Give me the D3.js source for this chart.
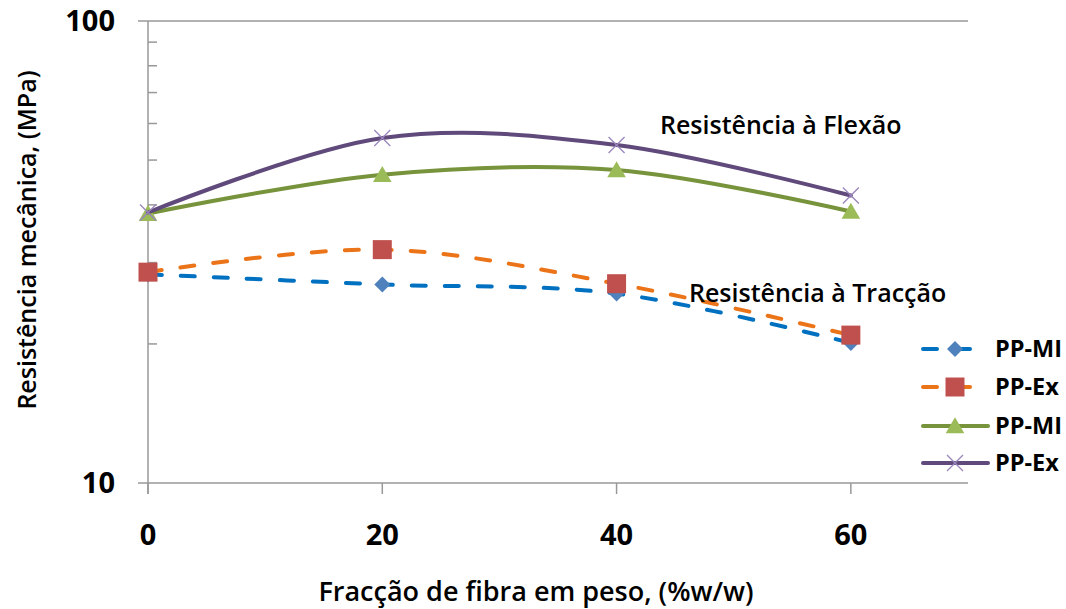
<!DOCTYPE html>
<html>
<head>
<meta charset="utf-8">
<script src="https://cdn.jsdelivr.net/npm/d3@7"></script>
<style>
  body { margin: 0; background: #fff; }
  svg { display: block; }
  text { font-family: "Open Sans", sans-serif; fill: #000; }
</style>
</head>
<body>
<svg id="chart"></svg>
<script>
// Dados
const fractions = [0, 20, 40, 60];
const tensilePPMI = [28.3, 26.9, 25.7, 20.1];
const tensilePPEx = [28.6, 32.0, 27.0, 20.9];
const flexPPMI = [38.3, 46.5, 47.6, 38.7];
const flexPPEx = [38.5, 55.8, 53.9, 41.9];
const seriesNames = ["PP-MI", "PP-Ex", "PP-MI", "PP-Ex"];
const xTicks = [0, 20, 40, 60];
const yMajorTicks = [10, 100];
const yMinorTicks = [20, 30, 40, 50, 60, 70, 80, 90];

const width = 1066, height = 609;
const plotLeft = 148, plotRight = 968, plotTop = 21, plotBottom = 483;

const svg = d3.select("#chart").attr("width", width).attr("height", height);

const x = d3.scaleLinear().domain([0, 70]).range([plotLeft, plotRight]);
const y = d3.scaleLog().domain([10, 100]).range([plotBottom, plotTop]);

const axisColor = "#999";

// Eixo Y (log)
const yAxis = svg.append("g").attr("transform", `translate(${plotLeft},0)`);
yAxis.append("line").attr("y1", plotTop).attr("y2", plotBottom + 11).attr("stroke", axisColor).attr("stroke-width", 1.5);
yAxis.selectAll(".minor").data(yMinorTicks).enter().append("line")
  .attr("x1", 0).attr("x2", 9)
  .attr("y1", d => y(d)).attr("y2", d => y(d))
  .attr("stroke", axisColor).attr("stroke-width", 1.5);
yAxis.selectAll(".major").data(yMajorTicks).enter().append("line")
  .attr("x1", -10).attr("x2", plotRight - plotLeft)
  .attr("y1", d => y(d)).attr("y2", d => y(d))
  .attr("stroke", axisColor).attr("stroke-width", 1.5);
yAxis.selectAll(".lab").data(yMajorTicks).enter().append("text")
  .attr("x", -33).attr("y", d => y(d) + 10)
  .attr("text-anchor", "end")
  .style("font-size", "29px").style("font-weight", "bold")
  .text(d => d);

// Eixo X
const xAxis = svg.append("g").attr("transform", `translate(0,${plotBottom})`);
xAxis.selectAll(".tick").data(xTicks).enter().append("line")
  .attr("x1", d => x(d)).attr("x2", d => x(d))
  .attr("y1", 0).attr("y2", 11)
  .attr("stroke", axisColor).attr("stroke-width", 1.5);
xAxis.selectAll(".lab").data(xTicks).enter().append("text")
  .attr("x", d => x(d)).attr("y", 62)
  .attr("text-anchor", "middle")
  .style("font-size", "29px").style("font-weight", "bold")
  .text(d => d);

// Títulos dos eixos
svg.append("text")
  .attr("x", 536).attr("y", 601)
  .attr("text-anchor", "middle")
  .style("font-size", "27px").style("font-weight", 600)
  .text("Fracção de fibra em peso, (%w/w)");

svg.append("text")
  .attr("transform", "translate(36,240) rotate(-90)")
  .attr("text-anchor", "middle")
  .style("font-size", "25px").style("font-weight", 600)
  .text("Resistência mecânica, (MPa)");

// Marcadores
const diamond = d3.symbol().type(d3.symbolSquare).size(128);
const square = d3.symbol().type(d3.symbolSquare).size(361);
const triangle = d3.symbol().type(d3.symbolTriangle).size(150);
const cross = () => "M-8,-8L8,8M-8,8L8,-8";

const series = [
  { name: seriesNames[0], values: tensilePPMI, line: "#0070C0", dash: "14 19", marker: "diamond", fill: "#4F81BD" },
  { name: seriesNames[1], values: tensilePPEx, line: "#EC7418", dash: "14 19", marker: "square", fill: "#C0504D" },
  { name: seriesNames[2], values: flexPPMI, line: "#77933C", dash: null, marker: "triangle", fill: "#9BBB59" },
  { name: seriesNames[3], values: flexPPEx, line: "#604A7B", dash: null, marker: "cross", fill: "#9A86BC" }
];

function drawMarker(g, type, fill) {
  if (type === "diamond") g.append("path").attr("d", diamond()).attr("transform", "rotate(45)").attr("fill", fill);
  else if (type === "square") g.append("path").attr("d", square()).attr("fill", fill);
  else if (type === "triangle") g.append("path").attr("d", triangle()).attr("transform", "translate(0,2)").attr("fill", fill);
  else g.append("path").attr("d", cross()).attr("stroke", fill).attr("stroke-width", 1.3).attr("fill", "none");
}

const line = d3.line()
  .x((d, i) => x(fractions[i]))
  .y(d => y(d))
  .curve(d3.curveCardinal.tension(0));

series.forEach(s => {
  svg.append("path")
    .attr("d", line(s.values))
    .attr("fill", "none")
    .attr("stroke", s.line)
    .attr("stroke-width", 4)
    .attr("stroke-linecap", "round")
    .attr("stroke-dasharray", s.dash);
  s.values.forEach((v, i) => {
    const g = svg.append("g").attr("transform", `translate(${x(fractions[i])},${y(v)})`);
    drawMarker(g, s.marker, s.fill);
  });
});

// Anotações
svg.append("text").attr("x", 660).attr("y", 134)
  .style("font-size", "25px").style("font-weight", 600)
  .text("Resistência à Flexão");
svg.append("text").attr("x", 689).attr("y", 302)
  .style("font-size", "25px").style("font-weight", 600)
  .text("Resistência à Tracção");

// Legenda
const legendY = [349, 387, 426, 463];
const legend = svg.append("g");
series.forEach((s, i) => {
  const g = legend.append("g").attr("transform", `translate(0,${legendY[i]})`);
  g.append("line").attr("x1", 923).attr("x2", 988)
    .attr("stroke", s.line).attr("stroke-width", 4)
    .attr("stroke-linecap", "round")
    .attr("stroke-dasharray", s.dash);
  const m = g.append("g").attr("transform", "translate(955,0)");
  drawMarker(m, s.marker, s.fill);
  g.append("text").attr("x", 995).attr("y", 8)
    .style("font-size", "23.5px").style("font-weight", "bold")
    .text(s.name);
});
</script>
</body>
</html>
